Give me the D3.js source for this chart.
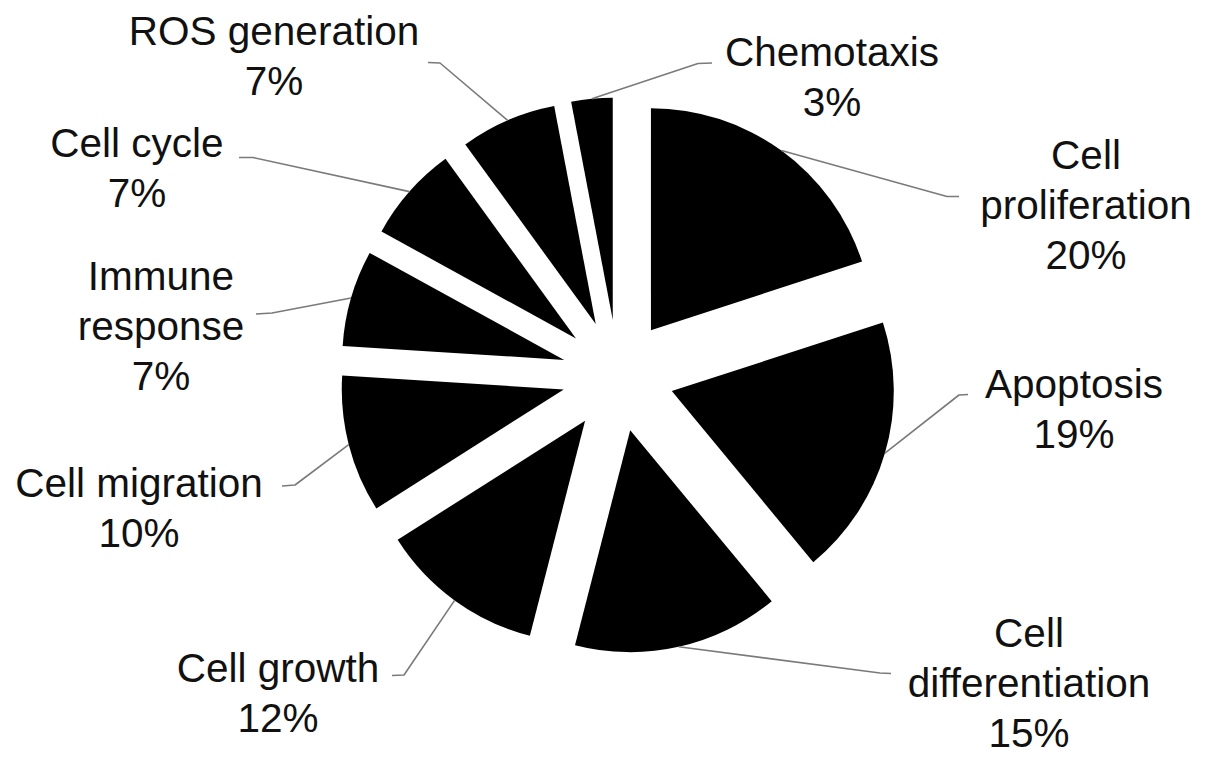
<!DOCTYPE html>
<html>
<head>
<meta charset="utf-8">
<script src="https://cdn.jsdelivr.net/npm/d3@7"></script>
<style>
  html, body { margin: 0; padding: 0; background: #fff; }
  svg { display: block; }
</style>
</head>
<body>
<svg id="chart" width="1205" height="762"></svg>
<script>
// ---- data ----
const categories = ["Cell proliferation", "Apoptosis", "Cell differentiation", "Cell growth",
  "Cell migration", "Immune response", "Cell cycle", "ROS generation", "Chemotaxis"];
const values = [20, 19, 15, 12, 10, 7, 7, 7, 3];
const labelLines = [["Cell", "proliferation"], ["Apoptosis"], ["Cell", "differentiation"], ["Cell growth"],
  ["Cell migration"], ["Immune", "response"], ["Cell cycle"], ["ROS generation"], ["Chemotaxis"]];

// ---- layout (not data) ----
const W = 1205, H = 762;
const cx = 618, cy = 375.5, R = 222, explode = 56;
const fontSize = 40.5, lineGap = 50;
// text centre x, first baseline y, leader elbow (bx,by), leader end (ex,ey)
const labelLayout = [
  {tx: 1086, ty: 169, bx: 947, by: 196.5, ex: 959, ey: 196.5},
  {tx: 1074, ty: 398, bx: 959, by: 395,   ex: 968, ey: 394.5},
  {tx: 1029, ty: 647, bx: 880, by: 673,   ex: 891, ey: 673.5},
  {tx: 278,  ty: 682, bx: 404, by: 675,   ex: 392, ey: 675.5},
  {tx: 139,  ty: 497, bx: 295, by: 485,   ex: 282, ey: 486},
  {tx: 161,  ty: 290, bx: 272, by: 313,   ex: 256, ey: 314},
  {tx: 137,  ty: 157, bx: 253, by: 157.5, ex: 239, ey: 157.5},
  {tx: 274,  ty: 45,  bx: 440, by: 63,    ex: 428, ey: 62.5},
  {tx: 832,  ty: 66,  bx: 698, by: 63.5,  ex: 712, ey: 63}
];

const svg = d3.select("#chart");
svg.append("rect").attr("width", W).attr("height", H).attr("fill", "#fff");

const pie = d3.pie().sort(null).value(d => d).startAngle(0).endAngle(2 * Math.PI);
const arcs = pie(values);
const arc = d3.arc().innerRadius(0).outerRadius(R);
const rimArc = d3.arc().innerRadius(R).outerRadius(R);

const offset = d => {
  const a = (d.startAngle + d.endAngle) / 2;
  return [explode * Math.sin(a), -explode * Math.cos(a)];
};

const g = svg.append("g").attr("transform", `translate(${cx},${cy})`);

g.selectAll("path.slice")
  .data(arcs)
  .join("path")
  .attr("class", "slice")
  .attr("d", arc)
  .attr("fill", "#000")
  .attr("transform", d => { const o = offset(d); return `translate(${o[0]},${o[1]})`; });

// leader lines
const lines = svg.append("g");
arcs.forEach((d, i) => {
  const o = offset(d);
  const c = rimArc.centroid(d);
  const start = [cx + c[0] + o[0], cy + c[1] + o[1]];
  const L = labelLayout[i];
  lines.append("path")
    .attr("d", d3.line()([start, [L.bx, L.by], [L.ex, L.ey]]))
    .attr("fill", "none")
    .attr("stroke", "#7a7a7a")
    .attr("stroke-width", 1.6)
    .attr("stroke-linejoin", "round");
});

// labels
const labels = svg.append("g")
  .attr("font-family", "'Liberation Sans', Arial, Helvetica, sans-serif")
  .attr("font-size", fontSize)
  .attr("fill", "#111")
  .attr("text-anchor", "middle");

arcs.forEach((d, i) => {
  const L = labelLayout[i];
  const linesTxt = labelLines[i].concat([values[i] + "%"]);
  const t = labels.append("text").attr("x", L.tx).attr("y", L.ty);
  linesTxt.forEach((s, k) => {
    t.append("tspan").attr("x", L.tx).attr("y", L.ty + k * lineGap).text(s);
  });
});
</script>
</body>
</html>
